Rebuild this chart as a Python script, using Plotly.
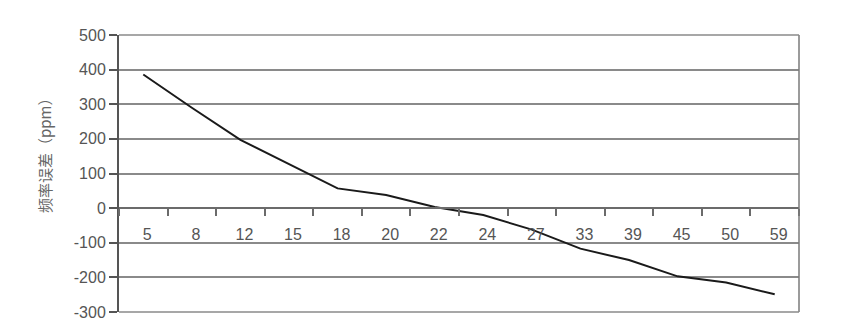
import plotly.graph_objects as go

categories = ["5", "8", "12", "15", "18", "20", "22", "24", "27", "33", "39", "45", "50", "59"]
freq_error_ppm = [386, 290, 197, 128, 57, 38, 3, -20, -62, -117, -150, -197, -215, -249]
y_ticks = [500, 400, 300, 200, 100, 0, -100, -200, -300]
y_tick_labels = ["500", "400", "300", "200", "100", "0", "-100", "-200", "-300"]
y_title = "频率误差（ppm）"

fig = go.Figure()
fig.add_trace(go.Scatter(
    x=categories, y=freq_error_ppm, mode="lines",
    line=dict(color="#1a1a1a", width=2),
    showlegend=False, hoverinfo="x+y",
))

y_min, y_max = -300, 500
zero_pos = (0 - y_min) / (y_max - y_min)

fig.update_layout(
    width=854, height=332,
    margin=dict(l=119, r=55, t=35, b=20),
    paper_bgcolor="white", plot_bgcolor="white",
    font=dict(family="Liberation Sans, Arial, sans-serif", color="#555555"),
    xaxis=dict(
        type="category",
        anchor="free", position=zero_pos,
        showline=True, linecolor="#6b6b6b", linewidth=2,
        ticks="outside", tickson="boundaries", ticklen=7, tickwidth=1.5, tickcolor="#6b6b6b",
        showgrid=False, zeroline=False,
        tickfont=dict(size=16, color="#555555"),
        ticklabelstandoff=12,
        ticklabelshift=4,
        range=[-0.5, len(categories) - 0.5],
    ),
    yaxis=dict(
        range=[y_min, y_max],
        tickvals=y_ticks, ticktext=y_tick_labels,
        showline=True, linecolor="#555555", linewidth=2,
        ticks="outside", ticklen=8, tickwidth=1.5, tickcolor="#555555",
        showgrid=True, gridcolor="#8a8a8a", gridwidth=1.5,
        zeroline=False,
        tickfont=dict(size=16, color="#555555"),
    ),
    shapes=[
        dict(type="line", xref="paper", yref="paper", x0=1, x1=1, y0=0, y1=1,
             line=dict(color="#7a7a7a", width=1.5)),
        dict(type="line", xref="paper", yref="paper", x0=0, x1=1, y0=1, y1=1,
             line=dict(color="#8a8a8a", width=1.5)),
        dict(type="line", xref="paper", yref="paper", x0=0, x1=1, y0=0, y1=0,
             line=dict(color="#8a8a8a", width=1.5)),
    ],
    annotations=[dict(
        text=y_title, xref="paper", yref="paper",
        x=(44 - 119) / 680, y=(312 - 152) / 277,
        xanchor="center", yanchor="middle", textangle=-90, showarrow=False,
        font=dict(family="Noto Sans CJK SC", size=15, color="#666666"),
    )],
)

fig.write_html("out.html")
